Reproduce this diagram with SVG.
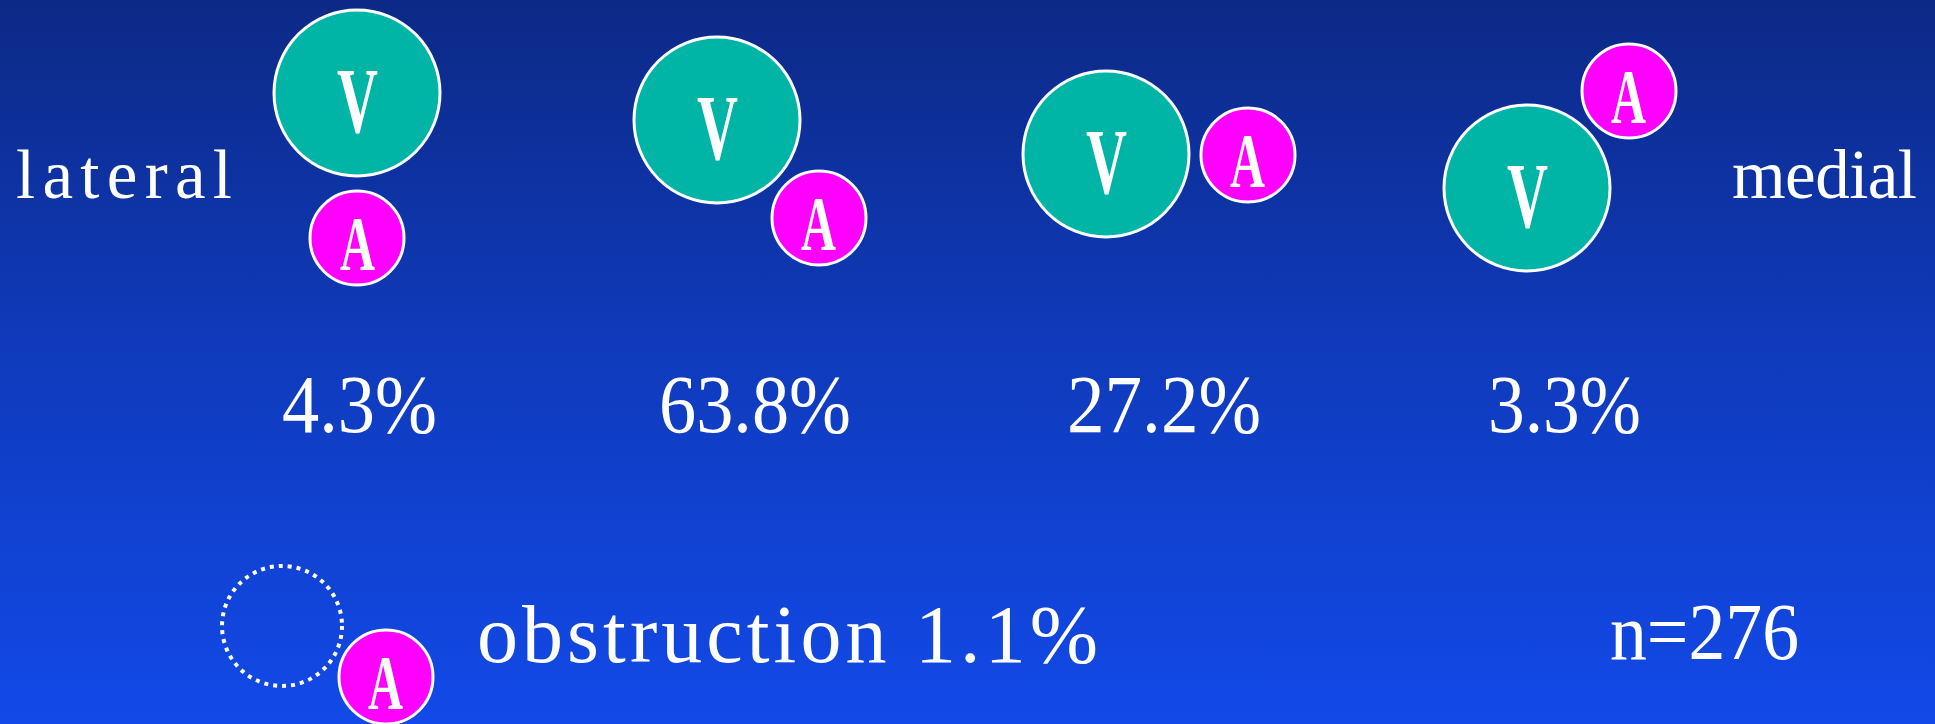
<svg xmlns="http://www.w3.org/2000/svg" width="1935" height="724" viewBox="0 0 1935 724">
<defs>
<linearGradient id="bg" x1="0" y1="0" x2="0" y2="1">
<stop offset="0" stop-color="#0c2986"/>
<stop offset="0.5" stop-color="#0f3bbd"/>
<stop offset="1" stop-color="#1249e8"/>
</linearGradient>
<style>
.v{fill:#00b5a6;stroke:#fff;stroke-width:3}
.a{fill:#ff00ff;stroke:#fff;stroke-width:3}
.lv{font-family:"Liberation Serif",serif;font-weight:bold;font-size:94px;fill:#fff}
.la{font-family:"Liberation Serif",serif;font-weight:bold;font-size:78px;fill:#fff}
.t{font-family:"Liberation Serif",serif;fill:#fff}
</style>
</defs>
<rect width="1935" height="724" fill="url(#bg)"/>
<g id="label-lateral"><text class="t" x="16" y="198" font-size="69" textLength="216" lengthAdjust="spacing">lateral</text></g>
<g id="label-medial"><text class="t" x="1732" y="198" font-size="69" textLength="185" lengthAdjust="spacing">medial</text></g>
<g id="case1">
<circle class="v" cx="357" cy="93" r="83"/>
<text class="lv" x="337" y="132" textLength="41" lengthAdjust="spacingAndGlyphs">V</text>
<circle class="a" cx="357" cy="238" r="47"/>
<text class="la" x="340" y="270" textLength="35" lengthAdjust="spacingAndGlyphs">A</text>
</g>
<g id="case2">
<circle class="v" cx="717" cy="120" r="83"/>
<text class="lv" x="697" y="159" textLength="41" lengthAdjust="spacingAndGlyphs">V</text>
<circle class="a" cx="819" cy="218" r="47"/>
<text class="la" x="801" y="250" textLength="35" lengthAdjust="spacingAndGlyphs">A</text>
</g>
<g id="case3">
<circle class="v" cx="1106" cy="154" r="83"/>
<text class="lv" x="1086" y="193" textLength="41" lengthAdjust="spacingAndGlyphs">V</text>
<circle class="a" cx="1248" cy="155" r="47"/>
<text class="la" x="1230" y="187" textLength="35" lengthAdjust="spacingAndGlyphs">A</text>
</g>
<g id="case4">
<circle class="v" cx="1527" cy="188" r="83"/>
<text class="lv" x="1507" y="227" textLength="41" lengthAdjust="spacingAndGlyphs">V</text>
<circle class="a" cx="1629" cy="91" r="47"/>
<text class="la" x="1611" y="123" textLength="35" lengthAdjust="spacingAndGlyphs">A</text>
</g>
<g id="percentages">
<text class="t" x="282" y="432" font-size="83" textLength="155" lengthAdjust="spacingAndGlyphs">4.3%</text>
<text class="t" x="659" y="432" font-size="83" textLength="192" lengthAdjust="spacingAndGlyphs">63.8%</text>
<text class="t" x="1067" y="432" font-size="83" textLength="194" lengthAdjust="spacingAndGlyphs">27.2%</text>
<text class="t" x="1488" y="432" font-size="83" textLength="153" lengthAdjust="spacingAndGlyphs">3.3%</text>
</g>
<g id="obstruction">
<circle cx="282" cy="626" r="60" fill="none" stroke="#fff" stroke-width="4" stroke-dasharray="4 5"/>
<circle class="a" cx="386" cy="677" r="47"/>
<text class="la" x="368" y="709" textLength="35" lengthAdjust="spacingAndGlyphs">A</text>
<text class="t" x="477" y="662" font-size="82" textLength="621" lengthAdjust="spacing">obstruction 1.1%</text>
</g>
<g id="sample-size"><text class="t" x="1610" y="659" font-size="80" textLength="189" lengthAdjust="spacingAndGlyphs">n=276</text></g>
</svg>
